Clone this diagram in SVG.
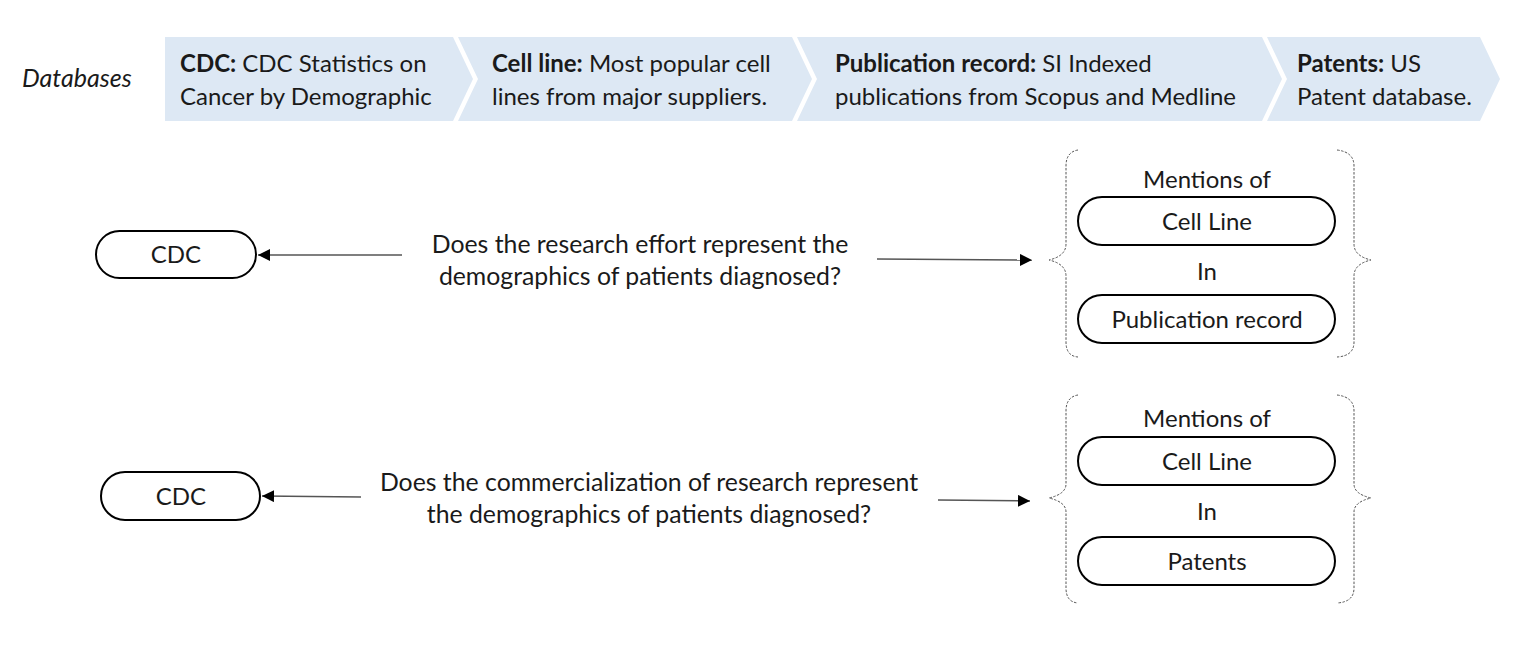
<svg xmlns="http://www.w3.org/2000/svg" width="1530" height="648" viewBox="0 0 1530 648">
<defs>
<style>
.band{fill:#dde8f4}
.t{font-family:Lato,"Liberation Sans",sans-serif;fill:#1a1a1a}
.hd{font-size:24px}
.b{font-weight:bold}
.q{font-size:24.8px;text-anchor:middle}
.n{font-size:24px;text-anchor:middle}
.pill{fill:#fff;stroke:#000;stroke-width:2}
.con{stroke:#555;stroke-width:1.5;fill:none}
.brace{fill:none;stroke:#555;stroke-width:1;stroke-dasharray:2.5 1.5}
</style>
<marker id="ah" viewBox="0 0 10 10" refX="10" refY="5" markerWidth="12" markerHeight="12" markerUnits="userSpaceOnUse" orient="auto">
<path d="M0,0 L10,5 L0,10 Z" fill="#000"/>
</marker>
</defs>
<rect width="1530" height="648" fill="#fff"/>

<text class="t" x="22" y="87" font-size="25" font-style="italic">Databases</text>

<g id="db-cdc">
<path class="band" d="M165,37 L453,37 L473,79 L453,121 L165,121 Z"/>
<text class="t hd" x="180" y="72"><tspan class="b">CDC:</tspan> CDC Statistics on</text>
<text class="t hd" x="180" y="105">Cancer by Demographic</text>
</g>
<g id="db-cellline">
<path class="band" d="M458,37 L792,37 L812,79 L792,121 L458,121 L478,79 Z"/>
<text class="t hd" x="492" y="72"><tspan class="b">Cell line:</tspan> Most popular cell</text>
<text class="t hd" x="492" y="105">lines from major suppliers.</text>
</g>
<g id="db-pub">
<path class="band" d="M797,37 L1262,37 L1282,79 L1262,121 L797,121 L817,79 Z"/>
<text class="t hd" x="835" y="72"><tspan class="b">Publication record:</tspan> SI Indexed</text>
<text class="t hd" x="835" y="105">publications from Scopus and Medline</text>
</g>
<g id="db-patents">
<path class="band" d="M1267,37 L1480,37 L1500,79 L1480,121 L1267,121 L1287,79 Z"/>
<text class="t hd" x="1297" y="72"><tspan class="b">Patents:</tspan> US</text>
<text class="t hd" x="1297" y="105">Patent database.</text>
</g>

<g id="cdc1">
<rect class="pill" x="96" y="231" width="160" height="47" rx="23.5"/>
<text class="t n" x="176" y="263">CDC</text>
</g>
<g id="q1">
<text class="t q" x="640" y="253">Does the research effort represent the</text>
<text class="t q" x="640" y="285">demographics of patients diagnosed?</text>
</g>
<g id="group1">
<path class="brace" d="M1078,150 Q1066,152 1066,166 L1066,244 Q1066,256 1049,260 Q1066,264 1066,276 L1066,342 Q1066,356 1078,357"/>
<path class="brace" d="M1337,150 Q1354,152 1354,166 L1354,244 Q1354,256 1371,260 Q1354,264 1354,276 L1354,342 Q1354,356 1337,357"/>
<text class="t n" x="1207" y="188">Mentions of</text>
<rect class="pill" x="1078" y="197" width="257" height="48" rx="24"/>
<text class="t n" x="1207" y="230">Cell Line</text>
<text class="t n" x="1207" y="280">In</text>
<rect class="pill" x="1078" y="295" width="257" height="48" rx="24"/>
<text class="t n" x="1207" y="328">Publication record</text>
</g>

<g id="cdc2">
<rect class="pill" x="101" y="472" width="159" height="48" rx="24"/>
<text class="t n" x="181" y="505">CDC</text>
</g>
<g id="q2">
<text class="t q" x="649" y="491">Does the commercialization of research represent</text>
<text class="t q" x="649" y="523">the demographics of patients diagnosed?</text>
</g>
<g id="group2">
<path class="brace" d="M1078,395 Q1066,397 1066,411 L1066,484 Q1066,494 1049,498 Q1066,502 1066,512 L1066,588 Q1066,602 1078,603"/>
<path class="brace" d="M1337,395 Q1354,397 1354,411 L1354,484 Q1354,494 1371,498 Q1354,502 1354,512 L1354,588 Q1354,602 1337,603"/>
<text class="t n" x="1207" y="427">Mentions of</text>
<rect class="pill" x="1078" y="437" width="257" height="48" rx="24"/>
<text class="t n" x="1207" y="470">Cell Line</text>
<text class="t n" x="1207" y="520">In</text>
<rect class="pill" x="1078" y="537" width="257" height="48" rx="24"/>
<text class="t n" x="1207" y="570">Patents</text>
</g>

<g id="connectors">
<line class="con" x1="402" y1="255" x2="258" y2="255" marker-end="url(#ah)"/>
<line class="con" x1="877" y1="259" x2="1032" y2="260" marker-end="url(#ah)"/>
<line class="con" x1="361" y1="497" x2="262" y2="496" marker-end="url(#ah)"/>
<line class="con" x1="938" y1="500" x2="1030" y2="501" marker-end="url(#ah)"/>
</g>
</svg>
